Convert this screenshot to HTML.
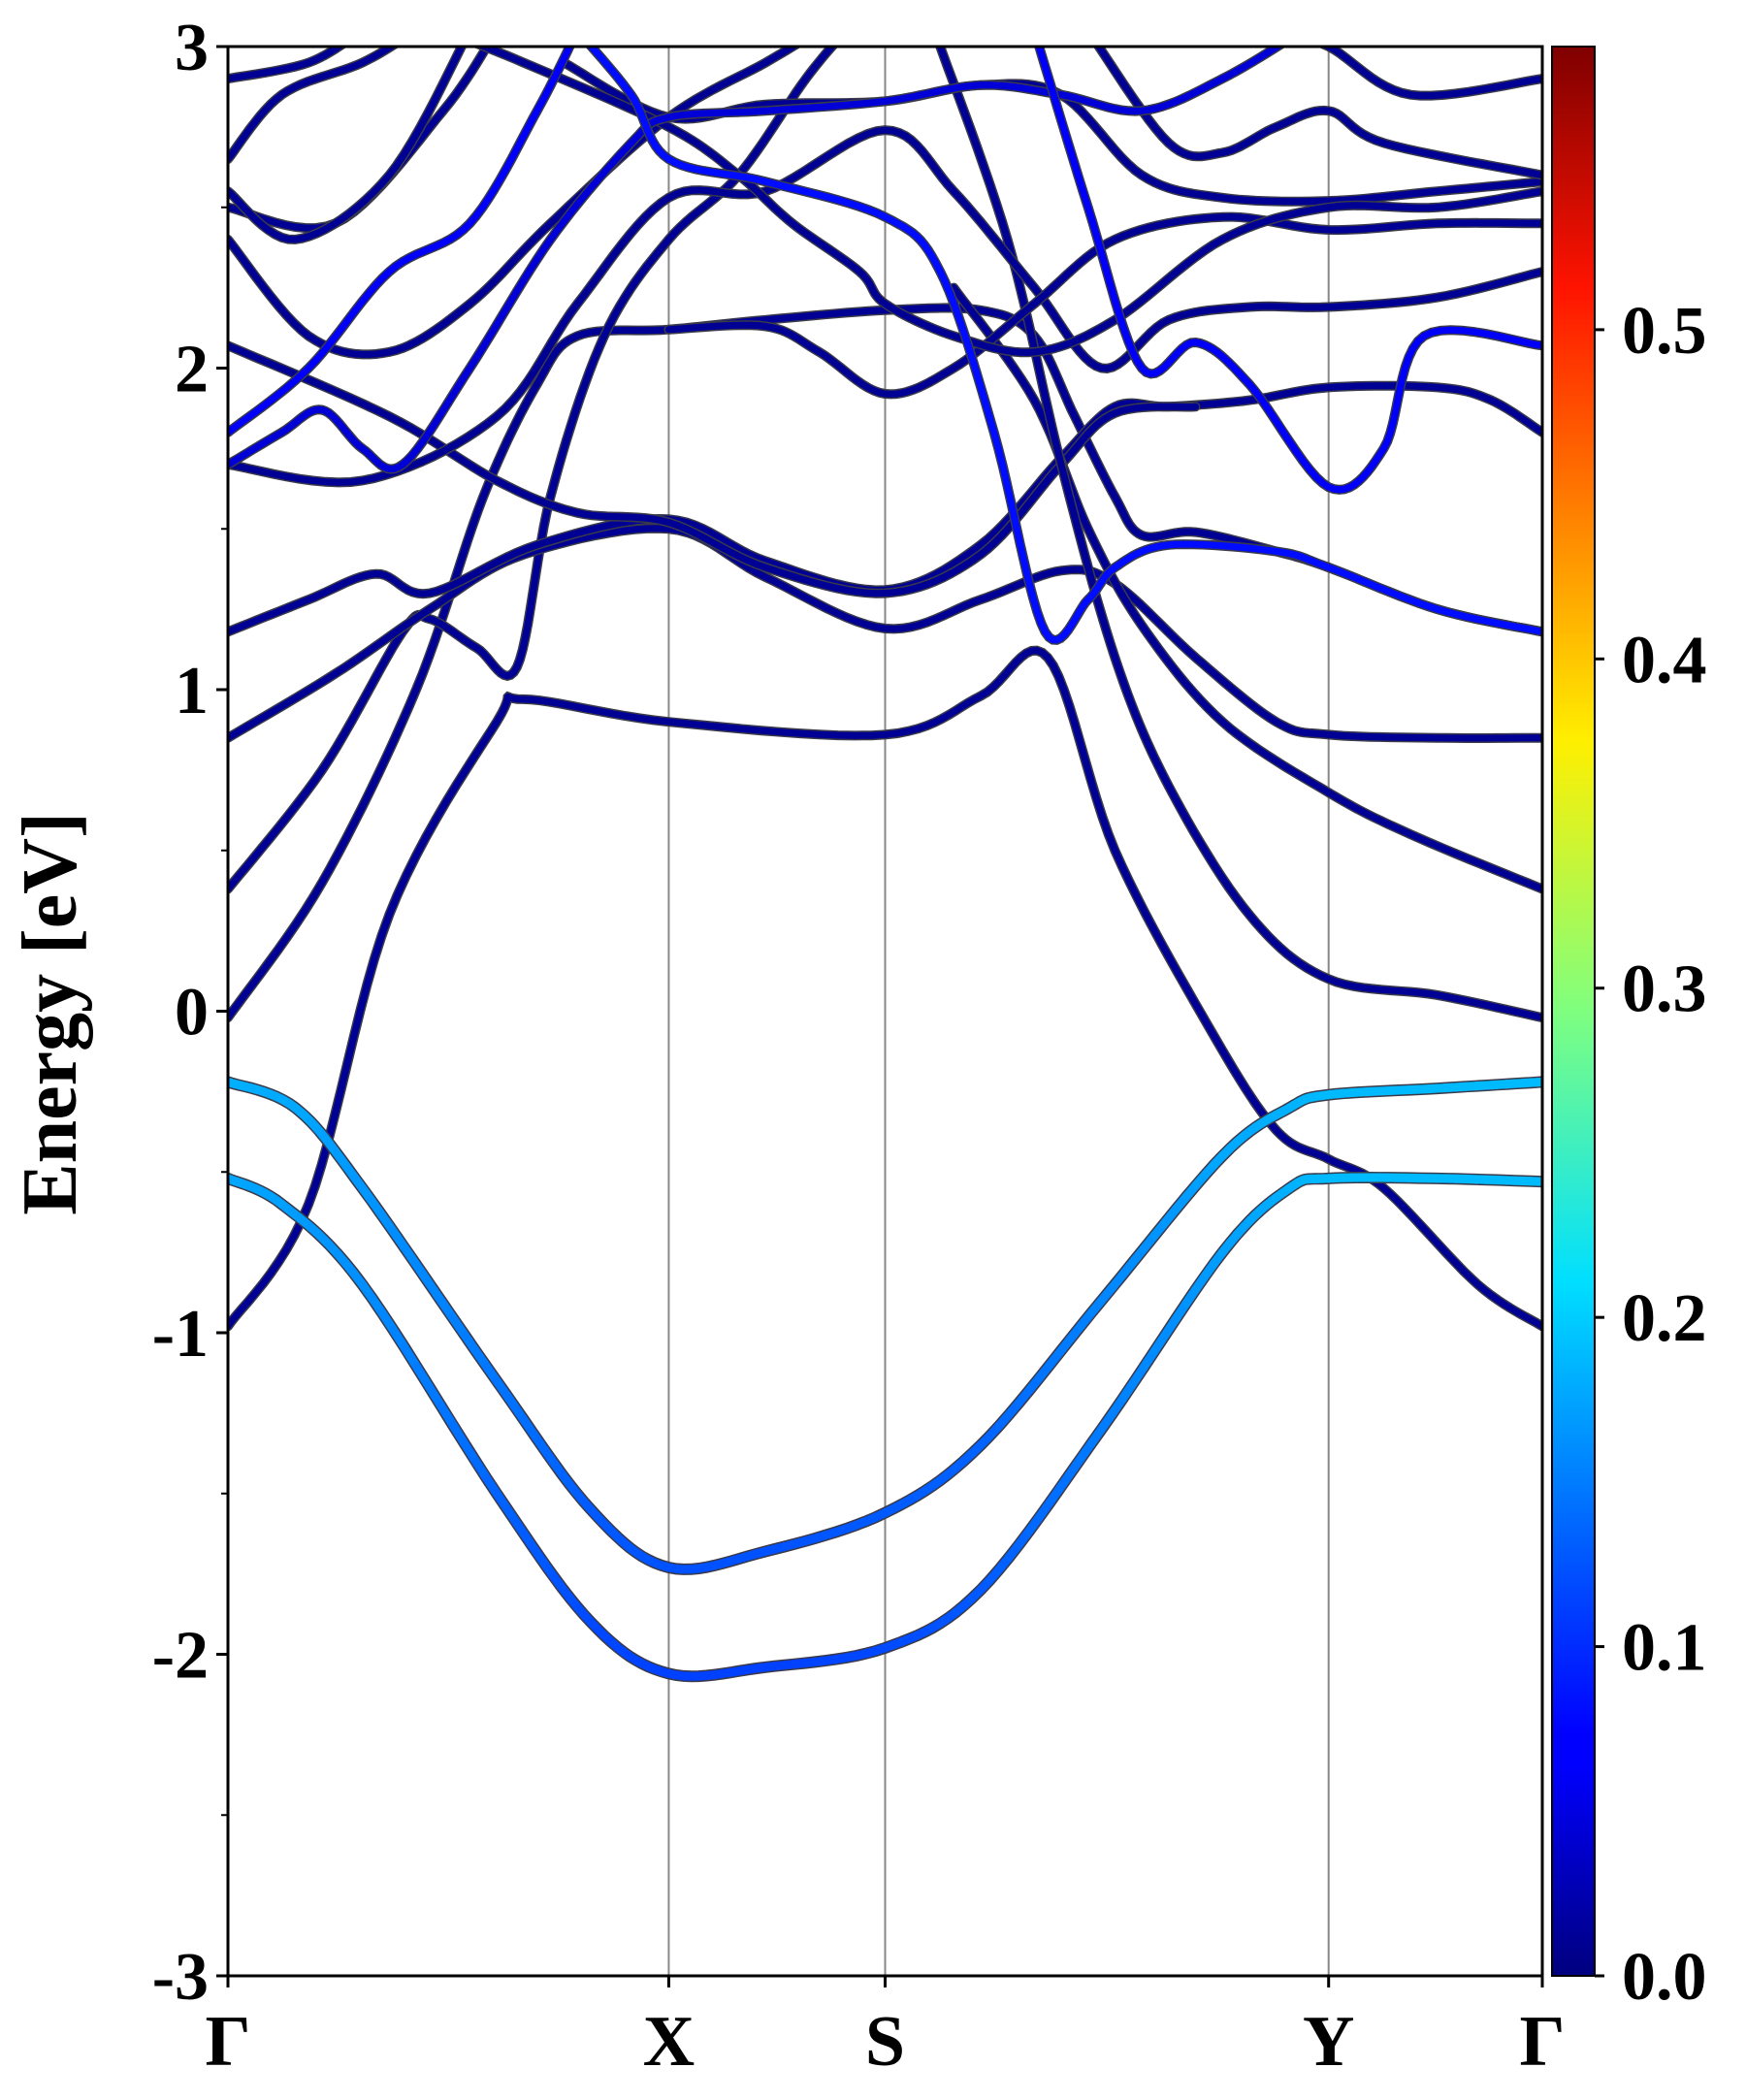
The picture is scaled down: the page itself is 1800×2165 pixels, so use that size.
<!DOCTYPE html>
<html><head><meta charset="utf-8"><style>
html,body{margin:0;padding:0;background:#fff;}
svg text{font-family:"Liberation Serif",serif;font-weight:bold;fill:#000;}
</style></head><body>
<svg id="chart" width="1800" height="2160" viewBox="0 0 1800 2160" xmlns="http://www.w3.org/2000/svg">
<defs>
<clipPath id="plotclip"><rect x="235" y="48" width="1355" height="1989"/></clipPath>
<linearGradient id="jetgrad" x1="0" y1="1" x2="0" y2="0">
<stop offset="0" stop-color="#00007f"/><stop offset="0.11" stop-color="#0000ff"/><stop offset="0.125" stop-color="#0000ff"/>
<stop offset="0.36" stop-color="#00dfff"/><stop offset="0.5" stop-color="#7fff7f"/><stop offset="0.64" stop-color="#ffef00"/>
<stop offset="0.875" stop-color="#ff1300"/><stop offset="1" stop-color="#7f0000"/>
</linearGradient>
</defs>
<g id="grid"></g>
<g id="bands" clip-path="url(#plotclip)"></g>
<rect x="235" y="48" width="1355" height="1989" fill="none" stroke="#000" stroke-width="3"/>
<g id="axes"></g>
<text transform="translate(78,1045) rotate(-90)" text-anchor="middle" font-size="80">Energy [eV]</text>
<rect x="1600" y="48" width="44" height="1989" fill="url(#jetgrad)" stroke="#000" stroke-width="2"/>
<g id="cbar"></g>
</svg>
<script>
const kLabels=["Γ","X","S","Y","Γ"];
const kPos=[0,328,489,819,978];
const yTicks=[-3,-2,-1,0,1,2,3];
const cbTicks=[0.0,0.1,0.2,0.3,0.4,0.5];
const cbMax=0.586;
const darkW=0.012;
const bandA=[[0,-0.22],[50,-0.30],[100,-0.55],[200,-1.15],[270,-1.55],[328,-1.73],[400,-1.68],[489,-1.56],[560,-1.35],[650,-0.9],[740,-0.45],[790,-0.30],[819,-0.26],[900,-0.24],[978,-0.22]];
const bandAw=[0.175,0.17,0.16,0.14,0.125,0.12,0.12,0.125,0.13,0.15,0.17,0.175,0.18,0.18,0.18];
const bandB=[[0,-0.52],[40,-0.6],[100,-0.85],[200,-1.5],[270,-1.9],[328,-2.06],[400,-2.04],[489,-1.98],[560,-1.8],[650,-1.3],[740,-0.75],[790,-0.55],[819,-0.52],[900,-0.52],[978,-0.53]];
const bandBw=[0.17,0.165,0.155,0.13,0.115,0.11,0.11,0.115,0.125,0.145,0.165,0.175,0.18,0.18,0.18];
const b1=[[0,-0.98],[60,-0.6],[120,0.3],[200,0.9],[220,0.97],[328,0.9],[489,0.86],[560,0.98],[610,1.1],[660,0.5],[730,-0.05],[780,-0.37],[819,-0.46],[860,-0.55],[930,-0.85],[978,-0.98]];
const b2=[[0,-0.02],[70,0.4],[140,1.0],[190,1.6],[230,1.95],[260,2.1],[328,2.12],[400,2.15],[489,2.18],[560,2.18],[600,2.1],[630,1.85],[660,1.6],[680,1.48],[720,1.49],[780,1.43],[819,1.38],[900,1.25],[978,1.18]];
const b3=[[0,0.38],[70,0.75],[130,1.18],[150,1.22],[185,1.13],[215,1.07],[240,1.6],[280,2.1],[328,2.4],[380,2.6],[430,2.9],[460,3.05]];
const b4=[[0,0.85],[80,1.05],[150,1.25],[220,1.42],[328,1.5],[400,1.35],[489,1.19],[560,1.28],[620,1.37],[660,1.33],[720,1.1],[780,0.9],[819,0.86],[900,0.85],[978,0.85]];
const b5=[[0,1.18],[60,1.28],[110,1.36],[150,1.3],[230,1.45],[328,1.53],[400,1.4],[489,1.31],[560,1.45],[620,1.72],[660,1.88],[700,1.88],[760,1.9],[819,1.94],[900,1.94],[940,1.9],[978,1.8]];
const b6=[[0,2.07],[120,1.85],[200,1.65],[260,1.55],[328,1.52],[400,1.38],[489,1.3],[560,1.42],[620,1.7],[660,1.86],[720,1.88]];
const b7=[[540,2.25],[600,1.9],[640,1.5],[680,1.2],[740,0.9],[819,0.68],[880,0.55],[978,0.38]];
const b8=[[530,3.0],[580,2.4],[620,1.7],[660,1.1],[700,0.7],[760,0.3],[819,0.1],[900,0.05],[978,-0.02]];
const b9=[[0,1.8],[60,2.0],[120,2.3],[180,2.45],[230,2.8],[260,3.05]];
const b10=[[0,1.7],[40,1.8],[70,1.87],[100,1.75],[130,1.7],[180,2.0],[240,2.4],[300,2.7],[328,2.78],[400,2.8],[489,2.83],[560,2.88],[620,2.85],[680,2.8],[740,2.9],[800,3.05]];
const b11=[[260,3.05],[300,2.85],[328,2.65],[400,2.58],[489,2.47],[530,2.3],[570,1.8],[608,1.18],[640,1.28],[660,1.38],[700,1.45],[780,1.43],[819,1.38],[900,1.25],[978,1.18]];
const b12=[[600,3.05],[640,2.5],[680,2.0],[720,2.08],[760,1.95],[819,1.63],[860,1.75],[890,2.1],[978,2.07]];
const b13=[[0,2.4],[60,2.1],[120,2.05],[180,2.2],[240,2.45],[328,2.78],[400,2.95],[440,3.05]];
const b14=[[0,1.7],[100,1.65],[200,1.85],[260,2.2],[328,2.53],[400,2.55],[489,2.74],[540,2.55],[600,2.25],[650,2.0],[700,2.15],[760,2.19],[819,2.19],[900,2.22],[978,2.3]];
const b15=[[250,2.95],[328,2.78],[400,2.82],[489,2.83],[560,2.88],[620,2.85],[680,2.6],[740,2.53],[819,2.52],[900,2.55],[978,2.58]];
const b16=[[328,2.12],[400,2.13],[440,2.05],[489,1.92],[540,2.0],[600,2.2],[660,2.4],[740,2.47],[819,2.43],[900,2.45],[978,2.45]];
const b17=[[0,2.5],[80,2.45],[160,2.8],[200,3.05]];
const b18=[[0,2.55],[50,2.4],[120,2.6],[180,3.05]];
const b19=[[0,2.65],[40,2.85],[100,2.95],[140,3.05]];
const b20=[[0,2.9],[60,2.95],[100,3.05]];
const b21=[[640,3.05],[700,2.7],[740,2.67],[780,2.75],[819,2.8],[860,2.7],[978,2.6]];
const b22=[[780,3.05],[819,3.0],[880,2.85],[978,2.9]];
const b23=[[160,3.05],[220,2.95],[328,2.75],[380,2.6],[420,2.45],[470,2.3],[489,2.2],[540,2.1],[600,2.05],[660,2.15],[740,2.4],[819,2.5],[900,2.5],[978,2.55]];
const darkBands=[b1,b2,b3,b4,b5,b6,b7,b8,b13,b14,b15,b16,b17,b18,b19,b20,b21,b22,b23];
const blueBands=[b9,b10,b11,b12];
const blueW=[0.07,0.05,0.08,0.07];

const X0=235,X1=1590,Y0=48,Y1=2037;
function xk(k){return X0+k*(X1-X0)/978;}
function yE(e){return Y1-(e+3)*(Y1-Y0)/6;}
function jet(w){const x=Math.max(0,Math.min(1,w/cbMax));const c=v=>Math.round(255*Math.max(0,Math.min(1,v)));
return `rgb(${c(1.5-Math.abs(4*x-3))},${c(1.5-Math.abs(4*x-2))},${c(1.5-Math.abs(4*x-1))})`;}
function spline(pts){const out=[];for(let i=0;i<pts.length-1;i++){const p0=pts[Math.max(0,i-1)],p1=pts[i],p2=pts[i+1],p3=pts[Math.min(pts.length-1,i+2)];
for(let s=0;s<12;s++){const t=s/12,t2=t*t,t3=t2*t;
const f=(a,b,c,d)=>0.5*((2*b)+(-a+c)*t+(2*a-5*b+4*c-d)*t2+(-a+3*b-3*c+d)*t3);
out.push([f(p0[0],p1[0],p2[0],p3[0]),f(p0[1],p1[1],p2[1],p3[1]),i+t]);}}
const l=pts[pts.length-1];out.push([l[0],l[1],pts.length-1]);return out;}
const NS="http://www.w3.org/2000/svg";
const gB=document.getElementById('bands');
function pathD(sp){return sp.map((p,i)=>(i?'L':'M')+xk(p[0]).toFixed(1)+' '+yE(p[1]).toFixed(1)).join(' ');}
function drawBand(pts,wfn,width,name){
const sp=spline(pts);
const o=document.createElementNS(NS,'path');


o.setAttribute('d',pathD(sp));o.setAttribute('fill','none');o.setAttribute('stroke','#3a3a4a');o.setAttribute('stroke-width',width+3);o.setAttribute('stroke-linecap','round');
gB.appendChild(o);
for(let i=0;i<sp.length-1;i++){
const s=document.createElementNS(NS,'line');


s.setAttribute('x1',xk(sp[i][0]));s.setAttribute('y1',yE(sp[i][1]));s.setAttribute('x2',xk(sp[i+1][0]));s.setAttribute('y2',yE(sp[i+1][1]));
s.setAttribute('stroke',jet(wfn(sp[i][2])));s.setAttribute('stroke-width',width);s.setAttribute('stroke-linecap','round');
gB.appendChild(s);}}
darkBands.forEach((b,i)=>drawBand(b,()=>darkW,7,'dark-band-'+(i+1)));
blueBands.forEach((b,i)=>drawBand(b,()=>blueW[i],7,'blue-band-'+(i+1)));
function wInterp(arr){return t=>{const i=Math.floor(t),f=t-i;return i>=arr.length-1?arr[arr.length-1]:arr[i]*(1-f)+arr[i+1]*f;};}
drawBand(bandB,wInterp(bandBw),9,'valence-band-lower');
drawBand(bandA,wInterp(bandAw),9,'valence-band-upper');

const gG=document.getElementById('grid');
kPos.slice(1,4).forEach(k=>{const l=document.createElementNS(NS,'line');


l.setAttribute('x1',xk(k));l.setAttribute('x2',xk(k));l.setAttribute('y1',Y0);l.setAttribute('y2',Y1);l.setAttribute('stroke','#888');l.setAttribute('stroke-width',2);gG.appendChild(l);});
const gA=document.getElementById('axes');
yTicks.forEach(v=>{const y=yE(v);
const l=document.createElementNS(NS,'line');


l.setAttribute('x1',X0-12);l.setAttribute('x2',X0);l.setAttribute('y1',y);l.setAttribute('y2',y);l.setAttribute('stroke','#000');l.setAttribute('stroke-width',3);gA.appendChild(l);
const t=document.createElementNS(NS,'text');


t.setAttribute('x',X0-20);t.setAttribute('y',y+24);t.setAttribute('text-anchor','end');t.setAttribute('font-size','70');t.textContent=v;gA.appendChild(t);
if(v<3){const m=document.createElementNS(NS,'line');


const ym=yE(v+0.5);m.setAttribute('x1',X0-7);m.setAttribute('x2',X0);m.setAttribute('y1',ym);m.setAttribute('y2',ym);m.setAttribute('stroke','#000');m.setAttribute('stroke-width',2);gA.appendChild(m);}});
kPos.forEach((k,i)=>{const x=xk(k);
const l=document.createElementNS(NS,'line');


l.setAttribute('x1',x);l.setAttribute('x2',x);l.setAttribute('y1',Y1);l.setAttribute('y2',Y1+12);l.setAttribute('stroke','#000');l.setAttribute('stroke-width',3);gA.appendChild(l);
const t=document.createElementNS(NS,'text');


t.setAttribute('x',x);t.setAttribute('y',Y1+92);t.setAttribute('text-anchor','middle');t.setAttribute('font-size','74');t.textContent=kLabels[i];gA.appendChild(t);});
const gC=document.getElementById('cbar');
cbTicks.forEach(v=>{const y=Y1-v/cbMax*(Y1-Y0);
const l=document.createElementNS(NS,'line');


l.setAttribute('x1',1644);l.setAttribute('x2',1654);l.setAttribute('y1',y);l.setAttribute('y2',y);l.setAttribute('stroke','#000');l.setAttribute('stroke-width',3);gC.appendChild(l);
const t=document.createElementNS(NS,'text');


t.setAttribute('x',1672);t.setAttribute('y',y+24);t.setAttribute('font-size','70');t.textContent=v.toFixed(1);gC.appendChild(t);});
</script>
</body></html>
